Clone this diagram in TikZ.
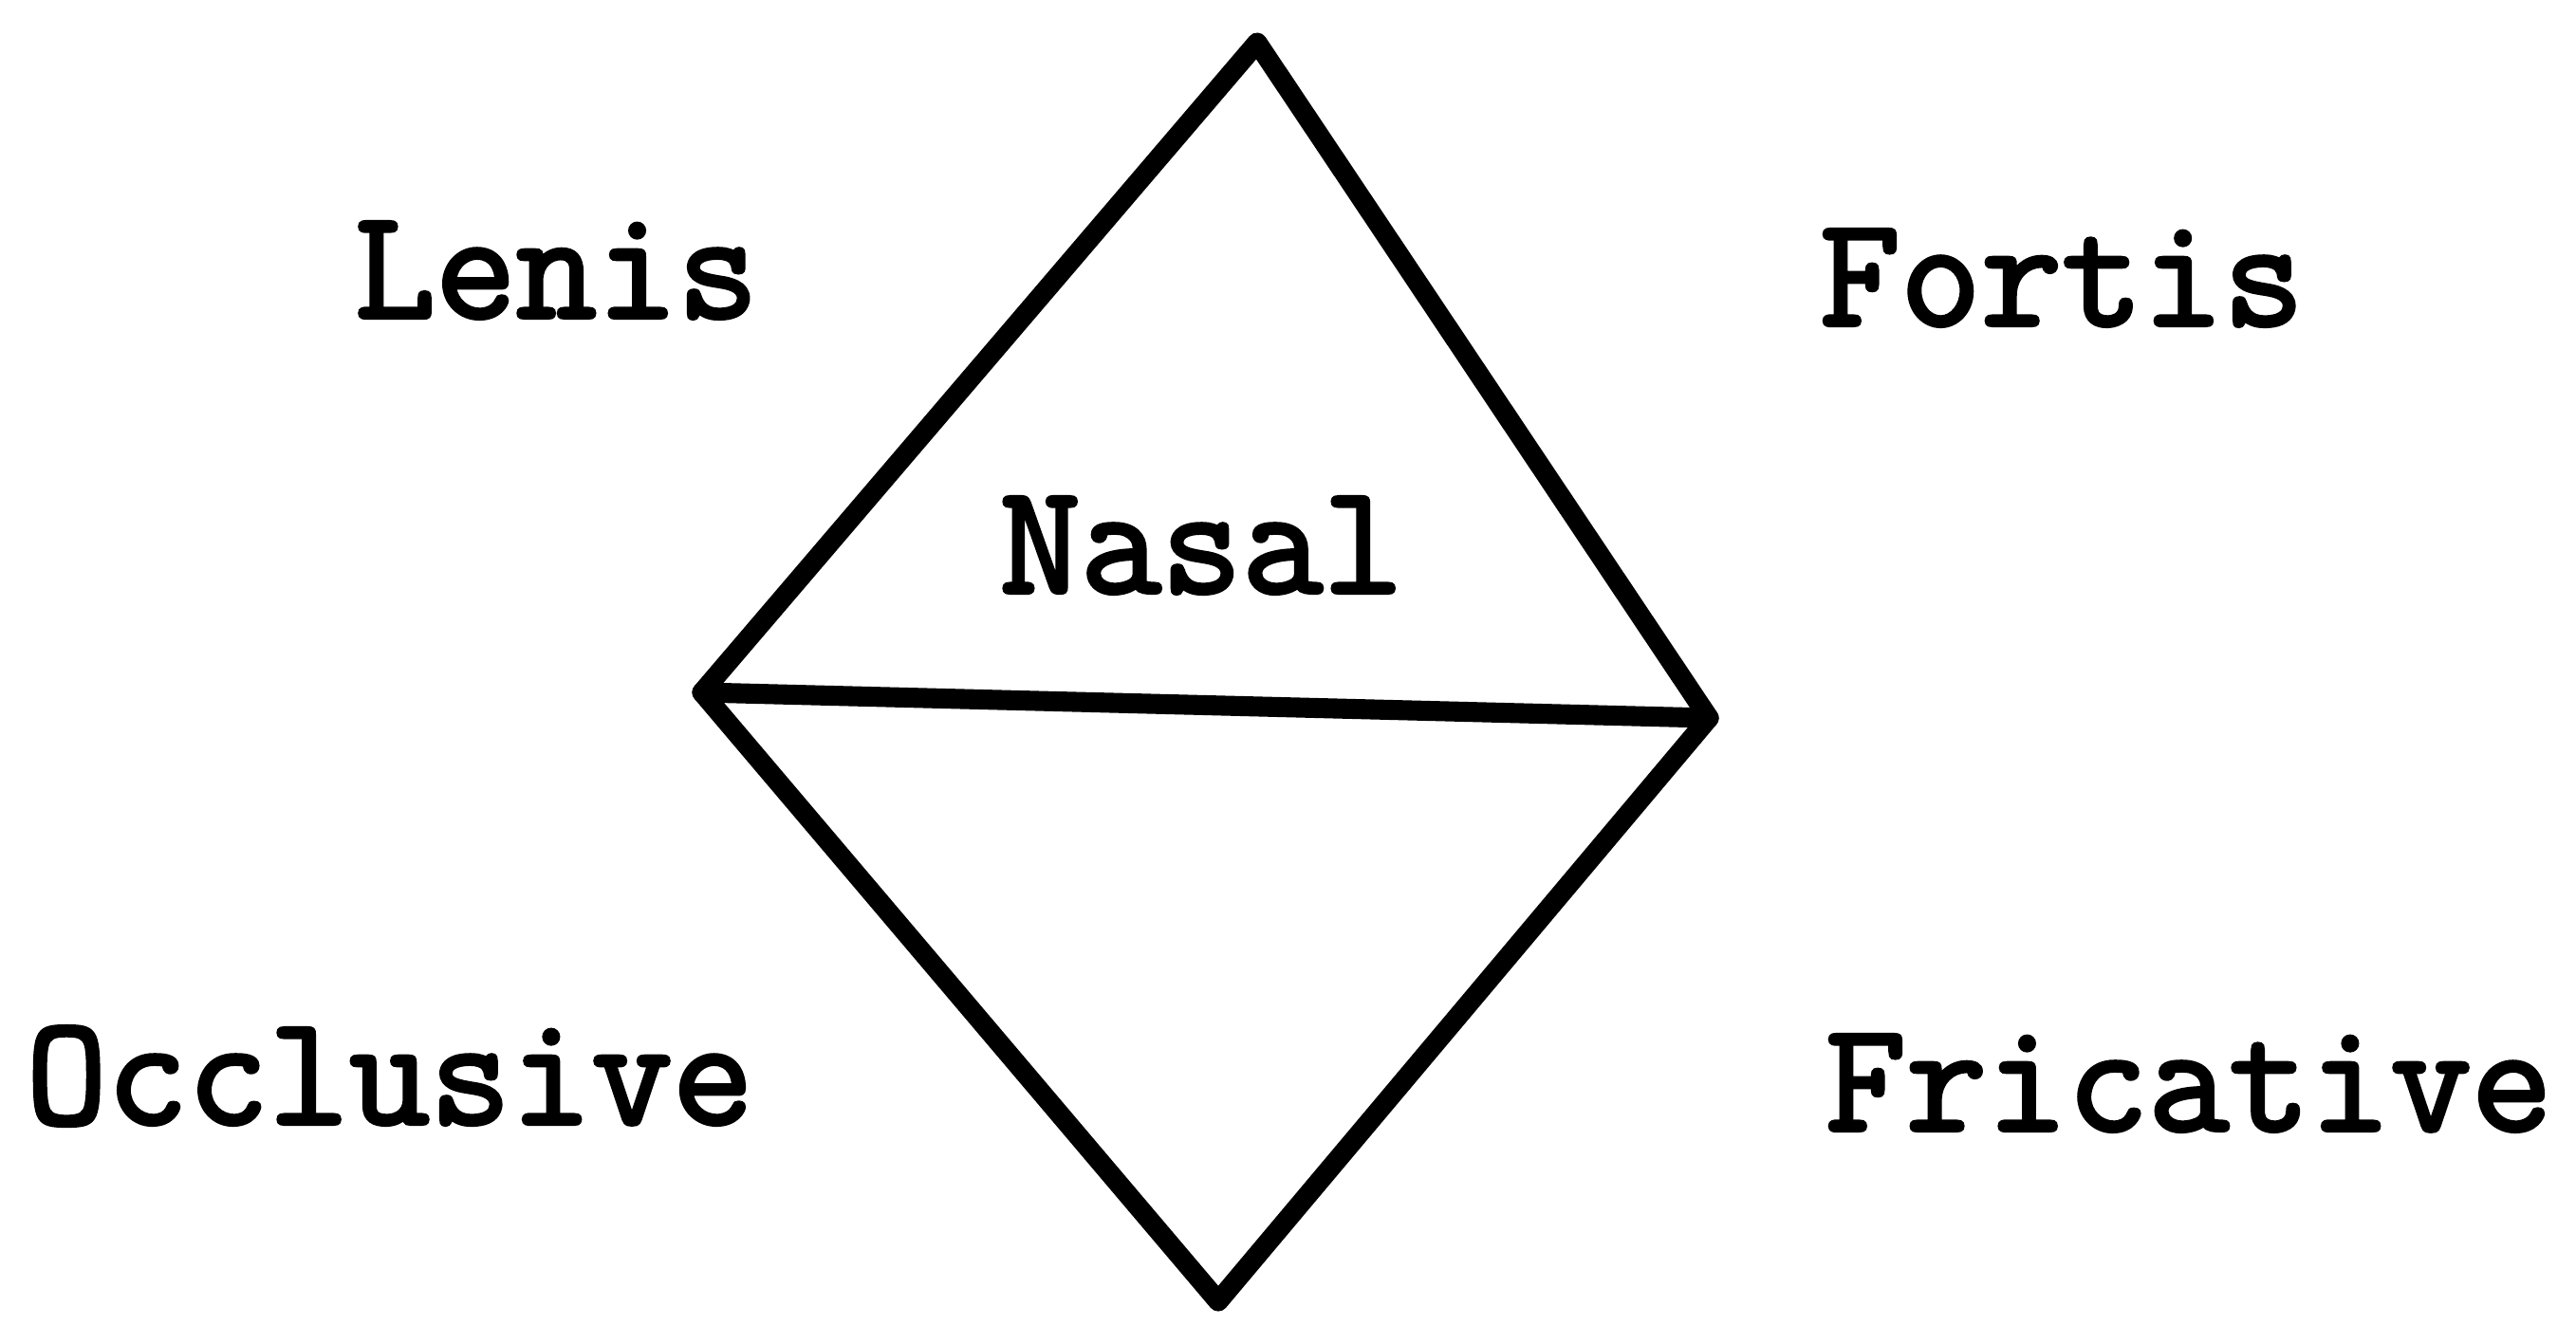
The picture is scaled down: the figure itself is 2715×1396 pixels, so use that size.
\documentclass[tikz,border=0pt]{standalone}
\usepackage{fontspec}
\newfontfamily\typewriter[FakeBold=2.5]{Latin Modern Mono}
\usepackage{tikz}
\usetikzlibrary{positioning}

\begin{document}
\begin{tikzpicture}[x=0.01cm, y=-0.01cm,
      edge/.style={line width=6pt, line join=round, line cap=round},
      lbl/.style={font=\fontsize{47}{47}\selectfont\typewriter\bfseries, anchor=base west, inner sep=0pt}]
    \useasboundingbox (0,0) rectangle (2715,1396);
    \coordinate (top)    at (1325,45);
    \coordinate (left)   at (740,730);
    \coordinate (right)  at (1801,757);
    \coordinate (bottom) at (1284,1372);
    \draw[edge] (left) -- (top) -- (right) -- (bottom) -- cycle;
    \draw[edge] (left) -- (right);
    \node[lbl] (lenis)  at (373,335)   {Lenis};
    \node[lbl] (fortis) at (1917,343)  {Fortis};
    \node[lbl] (nasal)  at (1053,625)  {Nasal};
    \node[lbl] (occl)   at (27,1185)   {Occlusive};
    \node[lbl] (fric)   at (1923,1192) {Fricative};
  \end{tikzpicture}
\end{document}
